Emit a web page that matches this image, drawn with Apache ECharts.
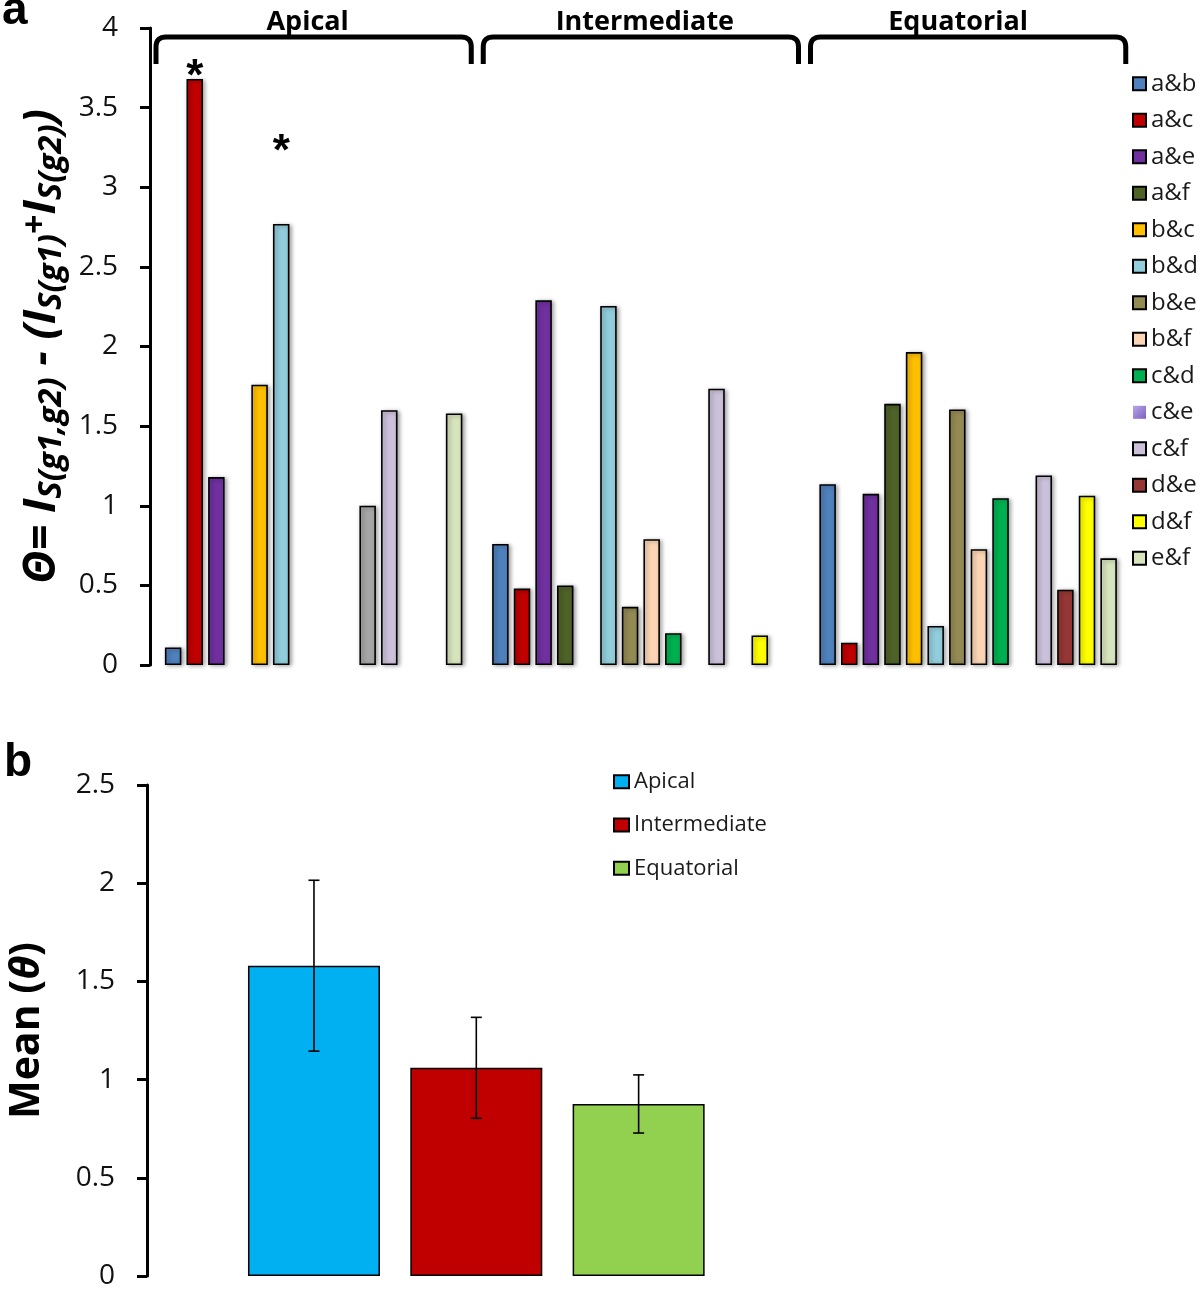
<!DOCTYPE html>
<html><head><meta charset="utf-8">
<script src="https://cdn.jsdelivr.net/npm/echarts@6/dist/echarts.min.js"></script>
<style>html,body{margin:0;padding:0;background:#fff}#c{width:1200px;height:1289px}</style>
</head><body><div id="c"></div>
<script>
// ---------- DATA ----------
const regions = ['Apical', 'Intermediate', 'Equatorial'];
const pairs = ['a&b','a&c','a&e','a&f','b&c','b&d','b&e','b&f','c&d','c&e','c&f','d&e','d&f','e&f'];
// theta per pair, ordered [Apical, Intermediate, Equatorial]; '-' = no bar
const v_ab = [0.11, 0.76, 1.135];
const v_ac = [3.68, 0.48, 0.14];
const v_ae = [1.18, 2.29, 1.075];
const v_af = ['-', 0.50, 1.64];
const v_bc = [1.76, '-', 1.965];
const v_bd = [2.77, 2.255, 0.245];
const v_be = ['-', 0.365, 1.605];
const v_bf = ['-', 0.79, 0.727];
const v_cd = ['-', 0.20, 1.047];
const v_ce = [1.00, '-', '-'];
const v_cf = [1.60, 1.735, 1.19];
const v_de = ['-', '-', 0.473];
const v_df = ['-', 0.186, 1.063];
const v_ef = [1.58, '-', 0.67];
const pairValues = [v_ab, v_ac, v_ae, v_af, v_bc, v_bd, v_be, v_bf, v_cd, v_ce, v_cf, v_de, v_df, v_ef];
// significance marks: pair -> region index
const starPairs = ['a&c', 'b&d'];
const starRegion = [0, 0];
// panel b
const meanValues = [1.58, 1.06, 0.876];
const meanErrors = [0.435, 0.257, 0.148];
const yTicksA = [0, 0.5, 1, 1.5, 2, 2.5, 3, 3.5, 4];
const yTicksB = [0, 0.5, 1, 1.5, 2, 2.5];

// ---------- STYLE ----------
const pairColors = ['#4F81BD','#C00000','#7030A0','#4F6228','#FFC000','#92CDDC','#948A54',
                    '#FCD5B5','#00B050','#A6A6A6','#CCC1DA','#953735','#FFFF00','#D7E4BD'];
const meanColors = ['#00B0F0','#C00000','#92D050'];
const FONT = 'Open Sans';
const starDist = [-21, 49];
const regionLabelShift = [-6, 4, -10];

const chart = echarts.init(document.getElementById('c'), null, {renderer:'canvas', width:1200, height:1289});

const pairSeries = pairs.map((p, i) => ({
  type: 'bar', name: p, xAxisIndex: 0, yAxisIndex: 0,
  barWidth: 16.5, barGap: '31%',
  itemStyle: {color: pairColors[i], borderColor: '#000', borderWidth: 1.6,
              shadowBlur: 4, shadowColor: 'rgba(0,0,0,0.35)', shadowOffsetX: 2, shadowOffsetY: 1},
  data: pairValues[i].map((v, r) => {
    const k = starPairs.indexOf(p);
    if (k >= 0 && starRegion[k] === r) {
      return {value: v, label: {show: true, position: 'top', formatter: '*', distance: starDist[k],
        fontSize: 44, fontWeight: 'bold', fontFamily: 'Liberation Sans', color: '#000', lineHeight: 44}};
    }
    return v;
  })
}));

const meanSeries = regions.map((r, i) => ({
  type: 'bar', name: r, xAxisIndex: 1, yAxisIndex: 1, stack: 'mean',
  barWidth: 132,
  itemStyle: {color: meanColors[i], borderColor: '#000', borderWidth: 1.5},
  data: regions.map((_, j) => j === i ? meanValues[i] : '-')
}));

const errSeries = {
  type: 'custom', xAxisIndex: 1, yAxisIndex: 1, z: 10,
  data: meanValues.map((m, i) => [i, m - meanErrors[i], m + meanErrors[i]]),
  renderItem(params, api) {
    const lo = api.coord([api.value(0), api.value(1)]);
    const hi = api.coord([api.value(0), api.value(2)]);
    const cap = 5.5;
    const style = {stroke: '#000', lineWidth: 1.6};
    return {type: 'group', children: [
      {type: 'line', shape: {x1: hi[0], y1: hi[1], x2: lo[0], y2: lo[1]}, style},
      {type: 'line', shape: {x1: hi[0]-cap, y1: hi[1], x2: hi[0]+cap, y2: hi[1]}, style},
      {type: 'line', shape: {x1: lo[0]-cap, y1: lo[1], x2: lo[0]+cap, y2: lo[1]}, style}
    ]};
  }
};

const yAxisBase = {
  type: 'value', splitLine: {show: false},
  axisLine: {show: true, lineStyle: {color: '#000', width: 3}},
  axisTick: {show: true, inside: false, length: 10, lineStyle: {color: '#000', width: 3}},
  axisLabel: {fontSize: 28, color: '#111', fontFamily: FONT, margin: 32}
};
const hiddenX = {type: 'category', axisLine: {show: false}, axisTick: {show: false}, axisLabel: {show: false}, splitLine: {show: false}};

const mainStyle = {fontSize: 45, fontWeight: 'bold', fontStyle: 'italic', fontFamily: FONT, color: '#000', lineHeight: 48, verticalAlign: 'top'};
const subStyle = {fontSize: 33, fontWeight: 'bold', fontStyle: 'italic', fontFamily: FONT, color: '#000',
                  lineHeight: 36, padding: [18, 0, 0, 0], verticalAlign: 'bottom'};
const plusStyle = {fontSize: 34, fontWeight: 'bold', fontFamily: FONT, color: '#000', lineHeight: 32, verticalAlign: 'top'};

chart.setOption({
  animation: false,
  backgroundColor: '#fff',
  grid: [
    {left: 150, top: 28, width: 981.75, height: 637, outerBoundsMode: 'none', containLabel: false},
    {left: 232.8, top: 785, width: 487, height: 491, outerBoundsMode: 'none', containLabel: false}
  ],
  xAxis: [
    Object.assign({}, hiddenX, {gridIndex: 0, data: regions}),
    Object.assign({}, hiddenX, {gridIndex: 1, data: regions})
  ],
  yAxis: [
    Object.assign({}, yAxisBase, {gridIndex: 0, min: yTicksA[0], max: yTicksA[yTicksA.length-1], interval: 0.5,
      name: '{m|Θ= I}{s|S(g1,g2)}{m| - (I}{s|S(g1)}{p|+}{m|I}{s|S(g2)}{m|)}',
      nameLocation: 'middle', nameRotate: 90, nameGap: 80,
      nameTextStyle: {rich: {m: mainStyle, s: subStyle, p: plusStyle}}}),
    Object.assign({}, yAxisBase, {gridIndex: 1, min: yTicksB[0], max: yTicksB[yTicksB.length-1], interval: 0.5, offset: 85.8,
      name: '{b|Mean (}{i|θ}{b|)}', nameLocation: 'middle', nameRotate: 90, nameGap: 99,
      nameTextStyle: {rich: {
        b: {fontSize: 41, fontWeight: 'bold', fontFamily: FONT, color: '#000'},
        i: {fontSize: 41, fontWeight: 'bold', fontStyle: 'italic', fontFamily: FONT, color: '#000'}
      }}})
  ],
  legend: [
    {data: pairs.map((p, i) => i === 9
        ? {name: p, itemStyle: {color: {type: 'linear', x: 0, y: 0, x2: 1, y2: 1,
             colorStops: [{offset: 0, color: '#B9A6E6'}, {offset: 1, color: '#7E5FC2'}]}, borderWidth: 0, shadowBlur: 0}}
        : p),
     orient: 'vertical', left: 1132, top: 71.8, padding: 0, itemWidth: 13, itemHeight: 13, itemGap: 12.5,
     icon: 'rect', selectedMode: false,
     textStyle: {fontSize: 24, fontFamily: FONT, color: '#1a1a1a'}},
    {data: regions, orient: 'vertical', left: 613, top: 770.7, padding: 0, itemWidth: 15, itemHeight: 13, itemGap: 21.3,
     icon: 'rect', selectedMode: false,
     textStyle: {fontSize: 22, fontFamily: FONT, color: '#1a1a1a'}}
  ],
  series: pairSeries.concat(meanSeries, [errSeries])
});

// region brackets + labels above panel a, placed via the axis scales
(function () {
  const c0 = chart.convertToPixel({xAxisIndex: 0}, regions[0]);
  const c1 = chart.convertToPixel({xAxisIndex: 0}, regions[1]);
  const band = c1 - c0;
  const yTop = chart.convertToPixel({yAxisIndex: 0}, yTicksA[yTicksA.length-1]);
  const y0 = yTop + 9, yb = yTop + 36, r = 10;
  function corner(px, py, cx, cy, qx, qy) {
    const pts = [];
    for (let k = 0; k <= 8; k++) {
      const t = k / 8, a = (1-t)*(1-t), b = 2*(1-t)*t, c = t*t;
      pts.push([a*px + b*cx + c*qx, a*py + b*cy + c*qy]);
    }
    return pts;
  }
  const els = [];
  regions.forEach((name, i) => {
    const cx = chart.convertToPixel({xAxisIndex: 0}, name);
    const x1 = cx - band/2 + 6, x2 = cx + band/2 - 6;
    const pts = [[x1, yb]]
      .concat(corner(x1, y0 + r, x1, y0, x1 + r, y0))
      .concat(corner(x2 - r, y0, x2, y0, x2, y0 + r))
      .concat([[x2, yb]]);
    els.push({type: 'polyline', shape: {points: pts},
      style: {stroke: '#000', lineWidth: 5, fill: null, lineJoin: 'round'}, z: 100});
    els.push({type: 'text', x: cx + regionLabelShift[i], y: y0 - 1, z: 100,
      style: {text: name, font: 'bold 27px "Open Sans"', fill: '#000', textAlign: 'center', textVerticalAlign: 'bottom'}});
  });
  els.push({type: 'text', left: 2, top: -12, z: 100, style: {text: 'a', font: 'bold 46px "Liberation Sans"', fill: '#000'}});
  els.push({type: 'text', left: 4, top: 740, z: 100, style: {text: 'b', font: 'bold 46px "Liberation Sans"', fill: '#000'}});
  chart.setOption({graphic: els});
})();
</script>
</body></html>
